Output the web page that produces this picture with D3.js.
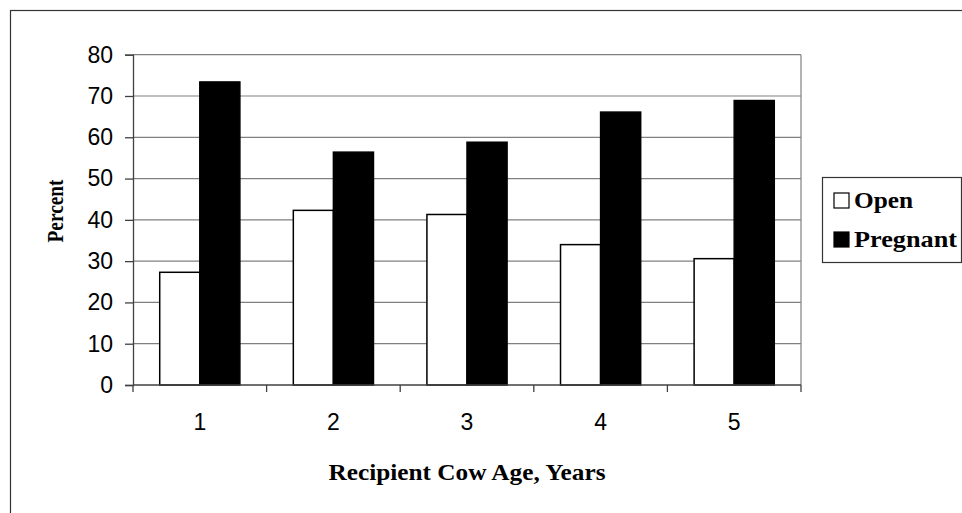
<!DOCTYPE html>
<html>
<head>
<meta charset="utf-8">
<script src="https://cdn.jsdelivr.net/npm/d3@7"></script>
<style>
  body { margin: 0; background: #fff; }
  svg { display: block; }
</style>
</head>
<body>
<div id="chart"></div>
<script>
// chart data
const ages = ["1", "2", "3", "4", "5"];
const seriesNames = ["Open", "Pregnant"];
const openValues = [27.3, 42.3, 41.3, 34.0, 30.6];
const pregnantValues = [73.4, 56.4, 58.8, 66.1, 68.9];
const yTicks = [0, 10, 20, 30, 40, 50, 60, 70, 80];

const width = 962, height = 513;
const plot = { left: 133, right: 801, top: 54.7, bottom: 385 };
const fills = { Open: "#fff", Pregnant: "#000" };

const rows = ages.map((a, i) => ({ age: a, Open: openValues[i], Pregnant: pregnantValues[i] }));

const svg = d3.select("#chart").append("svg")
  .attr("width", width)
  .attr("height", height);

// outer frame (runs off the right and bottom edges)
svg.append("rect")
  .attr("x", 10.5).attr("y", 10.5)
  .attr("width", 1000).attr("height", 600)
  .attr("fill", "none").attr("stroke", "#333").attr("stroke-width", 1.2);

const x = d3.scaleBand()
  .domain(ages)
  .range([plot.left, plot.right])
  .paddingInner(0.4)
  .paddingOuter(0.2);

const xSub = d3.scaleBand()
  .domain(seriesNames)
  .range([0, x.bandwidth()]);

const y = d3.scaleLinear()
  .domain([0, 80])
  .range([plot.bottom, plot.top]);

// gridlines
svg.append("g")
  .selectAll("line")
  .data(yTicks.filter(d => d > 0))
  .enter().append("line")
  .attr("x1", plot.left).attr("x2", plot.right)
  .attr("y1", d => y(d)).attr("y2", d => y(d))
  .attr("stroke", "#808080").attr("stroke-width", 1.2);

// right edge of plot area
svg.append("line")
  .attr("x1", plot.right).attr("x2", plot.right)
  .attr("y1", plot.top).attr("y2", plot.bottom)
  .attr("stroke", "#808080").attr("stroke-width", 1.2);

// bars
const groups = svg.append("g")
  .selectAll("g")
  .data(rows)
  .enter().append("g")
  .attr("transform", d => `translate(${x(d.age)},0)`);

groups.selectAll("rect")
  .data(d => seriesNames.map(k => ({ key: k, value: d[k] })))
  .enter().append("rect")
  .attr("x", d => xSub(d.key))
  .attr("y", d => y(d.value))
  .attr("width", xSub.bandwidth())
  .attr("height", d => y(0) - y(d.value))
  .attr("fill", d => fills[d.key])
  .attr("stroke", "#000")
  .attr("stroke-width", 1.5);

// y axis
const yAxis = svg.append("g")
  .attr("transform", `translate(${plot.left},0)`)
  .call(d3.axisLeft(y).tickValues(yTicks).tickSize(8).tickPadding(12));
yAxis.select(".domain").attr("stroke", "#404040").attr("stroke-width", 1.3);
yAxis.selectAll(".tick line").attr("stroke", "#404040").attr("stroke-width", 1.3);
yAxis.selectAll("text")
  .attr("font-family", "Liberation Sans, Arial, sans-serif")
  .attr("font-size", 23)
  .attr("fill", "#000");

// x axis: ticks sit between categories
const boundaries = ages.map(a => x(a) - x.step() * x.paddingInner() / 2)
  .concat([plot.right]);
const xAxis = svg.append("g");
xAxis.append("line")
  .attr("x1", plot.left).attr("x2", plot.right)
  .attr("y1", plot.bottom).attr("y2", plot.bottom)
  .attr("stroke", "#404040").attr("stroke-width", 1.3);
xAxis.selectAll(".xtick")
  .data(boundaries)
  .enter().append("line")
  .attr("x1", d => d).attr("x2", d => d)
  .attr("y1", plot.bottom).attr("y2", plot.bottom + 7)
  .attr("stroke", "#404040").attr("stroke-width", 1.3);
xAxis.selectAll("text")
  .data(ages)
  .enter().append("text")
  .attr("x", d => x(d) + x.bandwidth() / 2)
  .attr("y", 430)
  .attr("text-anchor", "middle")
  .attr("font-family", "Liberation Sans, Arial, sans-serif")
  .attr("font-size", 23)
  .text(d => d);

// axis titles
const serif = "Liberation Serif, Times New Roman, serif";
svg.append("text")
  .attr("x", (plot.left + plot.right) / 2)
  .attr("y", 480)
  .attr("text-anchor", "middle")
  .attr("font-family", serif)
  .attr("font-weight", "bold")
  .attr("font-size", 23)
  .attr("textLength", 277)
  .attr("lengthAdjust", "spacingAndGlyphs")
  .text("Recipient Cow Age, Years");

svg.append("text")
  .attr("transform", "translate(63,211) rotate(-90)")
  .attr("text-anchor", "middle")
  .attr("font-family", serif)
  .attr("font-weight", "bold")
  .attr("font-size", 23)
  .attr("textLength", 63)
  .attr("lengthAdjust", "spacingAndGlyphs")
  .text("Percent");

// legend
const legend = svg.append("g");
legend.append("rect")
  .attr("x", 822.5).attr("y", 177.5)
  .attr("width", 139).attr("height", 85)
  .attr("fill", "#fff").attr("stroke", "#333").attr("stroke-width", 1.2);

const legendRows = legend.selectAll(".item")
  .data(seriesNames)
  .enter().append("g")
  .attr("transform", (d, i) => `translate(0,${208 + i * 39})`);

legendRows.append("rect")
  .attr("x", 834).attr("y", -15)
  .attr("width", 15).attr("height", 15)
  .attr("fill", d => fills[d])
  .attr("stroke", "#000").attr("stroke-width", 1.2);

legendRows.append("text")
  .attr("x", 854).attr("y", 0)
  .attr("font-family", serif)
  .attr("font-weight", "bold")
  .attr("font-size", 24)
  .attr("textLength", d => d === "Open" ? 59 : 103)
  .attr("lengthAdjust", "spacingAndGlyphs")
  .text(d => d);
</script>
</body>
</html>
